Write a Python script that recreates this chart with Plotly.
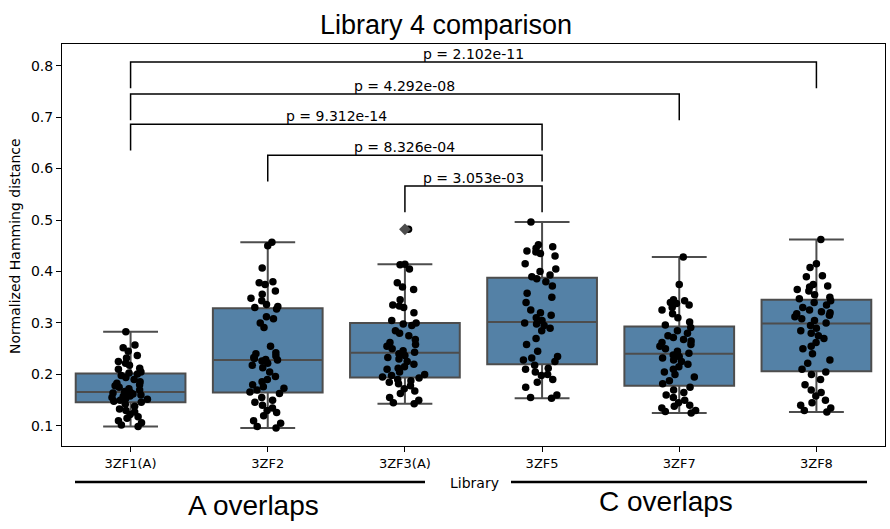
import plotly.graph_objects as go

# ---------------- data ----------------
categories = ["3ZF1(A)", "3ZF2", "3ZF3(A)", "3ZF5", "3ZF7", "3ZF8"]

v_3zf1 = [0.099, 0.102, 0.106, 0.110, 0.115, 0.118, 0.122, 0.127, 0.130, 0.133, 0.138, 0.142,
          0.146, 0.148, 0.150, 0.152, 0.153, 0.155, 0.157, 0.158, 0.160, 0.162, 0.163, 0.164, 0.165,
          0.167, 0.170, 0.172, 0.175, 0.178, 0.180, 0.183, 0.186, 0.190, 0.194, 0.198, 0.201,
          0.203, 0.205, 0.210, 0.212, 0.218, 0.222, 0.225, 0.232, 0.237, 0.245, 0.252, 0.257, 0.283]
v_3zf2 = [0.457, 0.450, 0.407, 0.380, 0.378, 0.375, 0.362, 0.356, 0.348, 0.343, 0.336, 0.332, 0.330,
          0.327, 0.312, 0.308, 0.300, 0.291, 0.255, 0.242, 0.240, 0.236, 0.233, 0.231, 0.229, 0.228,
          0.226, 0.222, 0.218, 0.213, 0.205, 0.196, 0.190, 0.186, 0.180, 0.176, 0.173, 0.170, 0.166,
          0.163, 0.155, 0.150, 0.146, 0.140, 0.135, 0.130, 0.126, 0.120, 0.110, 0.105, 0.099, 0.096]
v_3zf3 = [0.482, 0.414, 0.413, 0.405, 0.378, 0.370, 0.365, 0.345, 0.335, 0.333, 0.330, 0.320, 0.305,
          0.300, 0.298, 0.295, 0.285, 0.280, 0.275, 0.268, 0.262, 0.258, 0.255, 0.250, 0.246, 0.243,
          0.240, 0.237, 0.233, 0.230, 0.225, 0.220, 0.215, 0.212, 0.210, 0.205, 0.200, 0.198, 0.195,
          0.193, 0.190, 0.188, 0.185, 0.182, 0.178, 0.172, 0.168, 0.163, 0.155, 0.150, 0.145, 0.143]
v_3zf5 = [0.496, 0.452, 0.448, 0.445, 0.440, 0.438, 0.435, 0.430, 0.415, 0.405, 0.400, 0.393,
          0.390, 0.386, 0.380, 0.372, 0.358, 0.350, 0.340, 0.325, 0.320, 0.315, 0.310, 0.305,
          0.300, 0.298, 0.295, 0.290, 0.285, 0.270, 0.258, 0.245, 0.235, 0.232, 0.228, 0.225,
          0.218, 0.212, 0.210, 0.205, 0.200, 0.198, 0.190, 0.185, 0.175, 0.160, 0.155, 0.154]
v_3zf7 = [0.428, 0.375, 0.345, 0.343, 0.340, 0.338, 0.335, 0.330, 0.325, 0.318, 0.310, 0.302, 0.296,
          0.291, 0.285, 0.280, 0.275, 0.272, 0.268, 0.265, 0.262, 0.258, 0.255, 0.250, 0.245, 0.241,
          0.238, 0.235, 0.232, 0.228, 0.225, 0.220, 0.215, 0.210, 0.205, 0.200, 0.195, 0.188, 0.182,
          0.175, 0.170, 0.165, 0.160, 0.155, 0.150, 0.145, 0.140, 0.138, 0.135, 0.130, 0.128, 0.125]
v_3zf8 = [0.462, 0.415, 0.408, 0.392, 0.390, 0.375, 0.372, 0.370, 0.365, 0.362, 0.355, 0.350, 0.347,
          0.343, 0.340, 0.335, 0.330, 0.325, 0.322, 0.320, 0.318, 0.315, 0.312, 0.308, 0.305, 0.300,
          0.295, 0.290, 0.285, 0.280, 0.275, 0.270, 0.262, 0.255, 0.250, 0.240, 0.228, 0.222, 0.210,
          0.205, 0.200, 0.190, 0.180, 0.170, 0.165, 0.158, 0.150, 0.145, 0.140, 0.135, 0.130, 0.127]
group_values = [v_3zf1, v_3zf2, v_3zf3, v_3zf5, v_3zf7, v_3zf8]

# box statistics (as drawn)
q1s = [0.146, 0.165, 0.194, 0.220, 0.178, 0.206]
medians = [0.166, 0.228, 0.242, 0.302, 0.240, 0.299]
q3s = [0.202, 0.3285, 0.300, 0.388, 0.293, 0.345]
lower_fences = [0.099, 0.096, 0.143, 0.154, 0.125, 0.127]
upper_fences = [0.283, 0.457, 0.414, 0.496, 0.428, 0.462]

outlier_cats = ["3ZF3(A)"]
outlier_vals = [0.482]

# significance brackets
bracket_left = ["3ZF1(A)", "3ZF1(A)", "3ZF1(A)", "3ZF2", "3ZF3(A)"]
bracket_right = ["3ZF8", "3ZF7", "3ZF5", "3ZF5", "3ZF5"]
bracket_heights = [0.807, 0.745, 0.686, 0.626, 0.566]
bracket_labels = ["p = 2.102e-11", "p = 4.292e-08", "p = 9.312e-14", "p = 8.326e-04", "p = 3.053e-03"]
bracket_drop = 0.051

title_text = "Library 4 comparison"
y_title = "Normalized Hamming distance"
x_title = "Library"
group_labels = ["A overlaps", "C overlaps"]
y_ticks = [0.1, 0.2, 0.3, 0.4, 0.5, 0.6, 0.7, 0.8]

# ---------------- styles ----------------
BOX_FILL = "#5481A6"
BOX_LINE = "#4d4d4d"
TICKFONT = "DejaVu Sans"
TITLEFONT = "Liberation Sans"

fig = go.Figure()

fig.add_trace(go.Box(
    x=categories, q1=q1s, median=medians, q3=q3s,
    lowerfence=lower_fences, upperfence=upper_fences,
    fillcolor=BOX_FILL, line=dict(color=BOX_LINE, width=2),
    width=0.8, whiskerwidth=0.5, boxpoints=False, showlegend=False,
    hoverinfo="skip",
))

# outlier (seaborn flier diamond)
fig.add_trace(go.Scatter(
    x=outlier_cats, y=outlier_vals, mode="markers",
    marker=dict(symbol="diamond", color=BOX_LINE, size=9),
    showlegend=False, hoverinfo="skip",
))

# strip points (jittered by the library)
for cat, vals in zip(categories, group_values):
    fig.add_trace(go.Box(
        x=[cat] * len(vals), y=vals,
        boxpoints="all", jitter=0.42, pointpos=0,
        fillcolor="rgba(0,0,0,0)", line=dict(color="rgba(0,0,0,0)", width=0),
        marker=dict(color="black", size=7.5),
        width=0.8, whiskerwidth=0, showlegend=False, hoverinfo="skip",
    ))

# brackets
for lc, rc, h, lab in zip(bracket_left, bracket_right, bracket_heights, bracket_labels):
    xl = categories.index(lc)
    xr = categories.index(rc)
    fig.add_shape(type="path",
                  path=f"M {xl} {h - bracket_drop} L {xl} {h} L {xr} {h} L {xr} {h - bracket_drop}",
                  xref="x", yref="y", line=dict(color="black", width=1.5))
    fig.add_annotation(x=(xl + xr) / 2, y=h, xref="x", yref="y", text=lab,
                       showarrow=False, yanchor="bottom", yshift=-2,
                       font=dict(family=TICKFONT, size=14, color="black"))

L, R, T, B = 62, 5, 44, 83
W, H = 890, 529
pw, ph = W - L - R, H - T - B

def px_x(p):
    return (p - L) / pw

def px_y(p):
    return (H - B - p) / ph

# y axis title
fig.add_annotation(x=px_x(15), y=px_y(246), xref="paper", yref="paper",
                   text=y_title, textangle=-90, showarrow=False,
                   xanchor="center", yanchor="middle",
                   font=dict(family=TICKFONT, size=14, color="black"))
# x axis title
fig.add_annotation(x=px_x(474), y=px_y(483), xref="paper", yref="paper",
                   text=x_title, showarrow=False, xanchor="center", yanchor="middle",
                   font=dict(family=TICKFONT, size=14, color="black"))
# group lines
fig.add_shape(type="line", xref="paper", yref="paper",
              x0=px_x(75), x1=px_x(425), y0=px_y(482), y1=px_y(482),
              line=dict(color="black", width=2.5))
fig.add_shape(type="line", xref="paper", yref="paper",
              x0=px_x(511), x1=px_x(867), y0=px_y(482), y1=px_y(482),
              line=dict(color="black", width=2.5))
fig.add_annotation(x=px_x(253), y=px_y(505), xref="paper", yref="paper",
                   text=group_labels[0], showarrow=False, xanchor="center", yanchor="middle",
                   font=dict(family=TITLEFONT, size=28, color="black"))
fig.add_annotation(x=px_x(666), y=px_y(501), xref="paper", yref="paper",
                   text=group_labels[1], showarrow=False, xanchor="center", yanchor="middle",
                   font=dict(family=TITLEFONT, size=28, color="black"))

fig.update_layout(
    width=W, height=H,
    margin=dict(l=L, r=R, t=T, b=B),
    paper_bgcolor="white", plot_bgcolor="white",
    boxmode="overlay", hovermode=False,
    title=dict(text=title_text, x=px_x(446) * pw / W + L / W, xanchor="center",
               y=1 - 25 / H, yanchor="middle", yref="container",
               font=dict(family=TITLEFONT, size=27, color="black")),
    xaxis=dict(type="category", categoryorder="array", categoryarray=categories,
               range=[-0.5, 5.5], showline=True, mirror=True, linecolor="black", linewidth=1,
               ticks="outside", ticklen=5, tickcolor="black", showgrid=False, zeroline=False,
               tickfont=dict(family=TICKFONT, size=13, color="black")),
    yaxis=dict(range=[0.061, 0.842], tickvals=y_ticks, tickformat=".1f",
               showline=True, mirror=True, linecolor="black", linewidth=1,
               ticks="outside", ticklen=5, tickcolor="black", showgrid=False, zeroline=False,
               tickfont=dict(family=TICKFONT, size=14, color="black")),
)

fig.write_html("out.html")
